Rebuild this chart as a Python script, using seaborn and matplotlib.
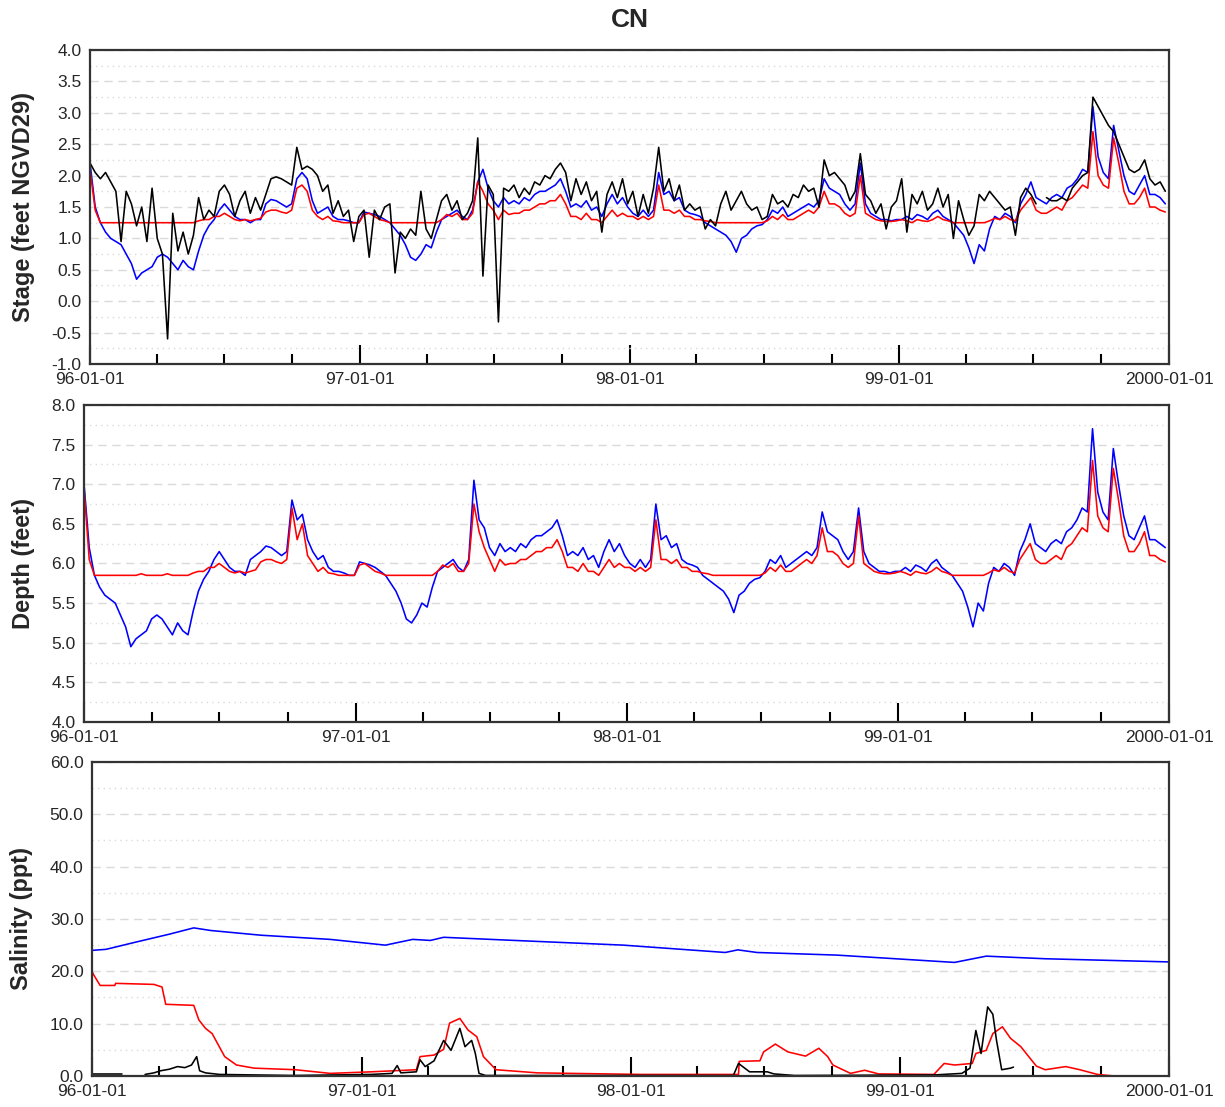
import numpy as np
import pandas as pd
import matplotlib
matplotlib.use('Agg')
import matplotlib.pyplot as plt
import matplotlib.ticker as mticker
import seaborn as sns

# weekly series, starting 1996-01-01
start = '1996-01-01'

stage_black = [
    # 1996
    2.2, 2.05, 1.95, 2.05, 1.9, 1.75, 0.95, 1.75, 1.55, 1.2,
    1.5, 0.95, 1.8, 1.0, 0.75, -0.6, 1.4, 0.8, 1.1, 0.75,
    1.05, 1.65, 1.3, 1.45, 1.35, 1.75, 1.85, 1.7, 1.35, 1.6,
    1.75, 1.4, 1.65, 1.45, 1.7, 1.95, 1.98, 1.95, 1.9, 1.85,
    2.45, 2.1, 2.15, 2.1, 2.0, 1.75, 1.85, 1.4, 1.6, 1.35,
    1.45, 0.95, 1.35,
    # 1997
    1.45, 0.7, 1.45, 1.3, 1.5, 1.55, 0.45, 1.1, 1.0, 1.15,
    1.05, 1.75, 1.15, 1.0, 1.3, 1.6, 1.7, 1.45, 1.6, 1.3,
    1.4, 1.6, 2.6, 0.4, 1.85, 1.7, -0.33, 1.8, 1.75, 1.85,
    1.65, 1.8, 1.7, 1.9, 1.85, 2.0, 1.95, 2.1, 2.2, 2.05,
    1.6, 1.95, 1.7, 1.9, 1.6, 1.75, 1.1, 1.7, 1.9, 1.65,
    1.95, 1.55,
    # 1998
    1.75, 1.35, 1.7, 1.4, 1.8, 2.45, 1.75, 1.95, 1.6, 1.85,
    1.45, 1.55, 1.45, 1.5, 1.15, 1.3, 1.2, 1.55, 1.75, 1.45,
    1.6, 1.75, 1.55, 1.45, 1.5, 1.3, 1.35, 1.7, 1.55, 1.6,
    1.5, 1.7, 1.65, 1.85, 1.75, 1.8, 1.5, 2.25, 2.0, 2.05,
    1.95, 1.85, 1.6, 1.75, 2.35, 1.7, 1.6, 1.4, 1.55, 1.15,
    1.5, 1.6,
    # 1999
    1.95, 1.1, 1.7, 1.55, 1.75, 1.45, 1.55, 1.8, 1.5, 1.7,
    1.0, 1.6, 1.3, 1.05, 1.2, 1.7, 1.6, 1.75, 1.65, 1.55,
    1.45, 1.5, 1.05, 1.65, 1.8, 1.7, 1.55, np.nan, 1.65, 1.6,
    1.6, 1.65, 1.6, 1.8, 1.9, 2.0, 2.05, 3.25, 3.1, 2.95,
    2.8, 2.7, 2.5, 2.3, 2.1, 2.05, 2.1, 2.25, 1.95, 1.85,
    1.9, 1.75,
]

stage_blue = [
    2.2, 1.5, 1.25, 1.1, 1.0, 0.95, 0.9, 0.75, 0.6, 0.35,
    0.45, 0.5, 0.55, 0.7, 0.75, 0.7, 0.6, 0.5, 0.65, 0.55,
    0.5, 0.8, 1.05, 1.2, 1.3, 1.45, 1.55, 1.45, 1.35, 1.3,
    1.3, 1.25, 1.3, 1.3, 1.55, 1.62, 1.6, 1.55, 1.5, 1.55,
    1.95, 2.05, 1.95, 1.6, 1.4, 1.45, 1.5, 1.35, 1.3, 1.3,
    1.28, 1.25, 1.25,
    1.42, 1.4, 1.38, 1.35, 1.3, 1.25, 1.15, 1.05, 0.9, 0.7,
    0.65, 0.75, 0.9, 0.85, 1.1, 1.3, 1.35, 1.4, 1.45, 1.35,
    1.3, 1.45, 1.9, 2.1, 1.8, 1.6, 1.5, 1.65, 1.55, 1.6,
    1.55, 1.65, 1.6, 1.7, 1.75, 1.75, 1.8, 1.85, 1.95, 1.75,
    1.5, 1.55, 1.5, 1.6, 1.45, 1.5, 1.35, 1.55, 1.7, 1.55,
    1.65, 1.5,
    1.4, 1.35, 1.45, 1.35, 1.45, 2.05, 1.7, 1.75, 1.6, 1.65,
    1.45, 1.4, 1.38, 1.35, 1.25, 1.2, 1.15, 1.1, 1.05, 0.95,
    0.78, 1.0, 1.05, 1.15, 1.2, 1.22, 1.3, 1.45, 1.4, 1.5,
    1.35, 1.4, 1.45, 1.5, 1.55, 1.5, 1.6, 1.95, 1.8, 1.75,
    1.7, 1.55, 1.45, 1.55, 2.2, 1.55, 1.4, 1.35, 1.3, 1.3,
    1.28, 1.3,
    1.3, 1.35, 1.3, 1.38, 1.35, 1.3, 1.4, 1.45, 1.35, 1.3,
    1.25, 1.15, 1.05, 0.85, 0.6, 0.9, 0.8, 1.15, 1.35, 1.3,
    1.4, 1.35, 1.25, 1.55, 1.7, 1.9, 1.65, 1.6, 1.55, 1.65,
    1.7, 1.65, 1.8, 1.85, 1.95, 2.1, 2.05, 3.1, 2.3, 2.05,
    1.95, 2.8, 2.4, 2.0, 1.75, 1.7, 1.85, 2.0, 1.7, 1.7,
    1.65, 1.55,
]

stage_red = [
    2.1, 1.45, 1.25, 1.25, 1.25, 1.25, 1.25, 1.25, 1.25, 1.25,
    1.25, 1.25, 1.25, 1.25, 1.25, 1.25, 1.25, 1.25, 1.25, 1.25,
    1.25, 1.28, 1.3, 1.3, 1.35, 1.35, 1.4, 1.35, 1.3, 1.28,
    1.3, 1.28, 1.3, 1.32, 1.42, 1.45, 1.45, 1.42, 1.4, 1.45,
    1.8, 1.85, 1.75, 1.45, 1.35, 1.3, 1.35, 1.28, 1.27, 1.25,
    1.25, 1.25, 1.25,
    1.38, 1.4, 1.35, 1.3, 1.28, 1.25, 1.25, 1.25, 1.25, 1.25,
    1.25, 1.25, 1.25, 1.25, 1.25, 1.3, 1.38, 1.35, 1.4, 1.3,
    1.3, 1.4, 1.9, 1.75, 1.55, 1.45, 1.3, 1.45, 1.38, 1.4,
    1.4, 1.45, 1.45, 1.5, 1.55, 1.55, 1.6, 1.6, 1.7, 1.55,
    1.35, 1.35, 1.3, 1.4, 1.3, 1.3, 1.25, 1.35, 1.45, 1.35,
    1.4, 1.35,
    1.35, 1.3, 1.35, 1.3, 1.35, 1.85, 1.45, 1.45, 1.4, 1.45,
    1.35, 1.35, 1.3, 1.3, 1.28, 1.27, 1.25, 1.25, 1.25, 1.25,
    1.25, 1.25, 1.25, 1.25, 1.25, 1.25, 1.28, 1.35, 1.3, 1.38,
    1.3, 1.3, 1.35, 1.4, 1.45, 1.4, 1.5, 1.75, 1.55, 1.55,
    1.5, 1.4, 1.35, 1.4, 2.0, 1.4, 1.35, 1.3, 1.28, 1.27,
    1.27, 1.28,
    1.3, 1.28, 1.25, 1.3, 1.28, 1.27, 1.3, 1.35, 1.3, 1.28,
    1.25, 1.25, 1.25, 1.25, 1.25, 1.25, 1.25, 1.28, 1.32, 1.3,
    1.35, 1.3, 1.28, 1.45, 1.55, 1.65, 1.45, 1.4, 1.4, 1.45,
    1.5, 1.45, 1.6, 1.65, 1.75, 1.85, 1.8, 2.7, 2.0, 1.85,
    1.8, 2.6, 2.2, 1.75, 1.55, 1.55, 1.65, 1.8, 1.5, 1.5,
    1.45, 1.42,
]

depth_blue = [
    7.0, 6.2, 5.85, 5.7, 5.6, 5.55, 5.5, 5.35, 5.2, 4.95,
    5.05, 5.1, 5.15, 5.3, 5.35, 5.3, 5.2, 5.1, 5.25, 5.15,
    5.1, 5.4, 5.65, 5.8, 5.9, 6.05, 6.15, 6.05, 5.95, 5.9,
    5.9, 5.85, 6.05, 6.1, 6.15, 6.22, 6.2, 6.15, 6.1, 6.15,
    6.8, 6.55, 6.62, 6.3, 6.15, 6.05, 6.1, 5.95, 5.9, 5.9,
    5.88, 5.85, 5.85,
    6.02, 6.0, 5.98, 5.95, 5.9, 5.85, 5.75, 5.65, 5.5, 5.3,
    5.25, 5.35, 5.5, 5.45, 5.7, 5.9, 5.95, 6.0, 6.05, 5.95,
    5.9, 6.05, 7.05, 6.55, 6.45, 6.2, 6.1, 6.25, 6.15, 6.2,
    6.15, 6.25, 6.2, 6.3, 6.35, 6.35, 6.4, 6.45, 6.55, 6.35,
    6.1, 6.15, 6.1, 6.2, 6.05, 6.1, 5.95, 6.15, 6.3, 6.15,
    6.25, 6.1,
    6.0, 5.95, 6.05, 5.95, 6.05, 6.75, 6.3, 6.35, 6.2, 6.25,
    6.05, 6.0, 5.98, 5.95, 5.85, 5.8, 5.75, 5.7, 5.65, 5.55,
    5.38, 5.6, 5.65, 5.75, 5.8, 5.82, 5.9, 6.05, 6.0, 6.1,
    5.95, 6.0, 6.05, 6.1, 6.15, 6.1, 6.2, 6.65, 6.4, 6.35,
    6.3, 6.15, 6.05, 6.15, 6.7, 6.15, 6.0, 5.95, 5.9, 5.9,
    5.88, 5.9,
    5.9, 5.95, 5.9, 5.98, 5.95, 5.9, 6.0, 6.05, 5.95, 5.9,
    5.85, 5.75, 5.65, 5.45, 5.2, 5.5, 5.4, 5.75, 5.95, 5.9,
    6.0, 5.95, 5.85, 6.15, 6.3, 6.5, 6.25, 6.2, 6.15, 6.25,
    6.3, 6.25, 6.4, 6.45, 6.55, 6.7, 6.65, 7.7, 6.9, 6.65,
    6.55, 7.45, 7.0, 6.6, 6.35, 6.3, 6.45, 6.6, 6.3, 6.3,
    6.25, 6.2,
]

depth_red = [
    6.95, 6.05, 5.85, 5.85, 5.85, 5.85, 5.85, 5.85, 5.85, 5.85,
    5.85, 5.87, 5.85, 5.85, 5.85, 5.85, 5.87, 5.85, 5.85, 5.85,
    5.85, 5.88, 5.9, 5.9, 5.95, 5.95, 6.0, 5.95, 5.9, 5.88,
    5.9, 5.88, 5.9, 5.92, 6.02, 6.05, 6.05, 6.02, 6.0, 6.05,
    6.7, 6.3, 6.5, 6.1, 6.0, 5.9, 5.95, 5.88, 5.87, 5.85,
    5.85, 5.85, 5.85,
    5.98, 6.0, 5.95, 5.9, 5.88, 5.85, 5.85, 5.85, 5.85, 5.85,
    5.85, 5.85, 5.85, 5.85, 5.85, 5.9, 5.98, 5.95, 6.0, 5.9,
    5.9, 6.0, 6.75, 6.4, 6.2, 6.05, 5.9, 6.05, 5.98, 6.0,
    6.0, 6.05, 6.05, 6.1, 6.15, 6.15, 6.2, 6.2, 6.3, 6.15,
    5.95, 5.95, 5.9, 6.0, 5.9, 5.9, 5.85, 5.95, 6.05, 5.95,
    6.0, 5.95,
    5.95, 5.9, 5.95, 5.9, 5.95, 6.55, 6.05, 6.05, 6.0, 6.05,
    5.95, 5.95, 5.9, 5.9, 5.88, 5.87, 5.85, 5.85, 5.85, 5.85,
    5.85, 5.85, 5.85, 5.85, 5.85, 5.85, 5.88, 5.95, 5.9, 5.98,
    5.9, 5.9, 5.95, 6.0, 6.05, 6.0, 6.1, 6.45, 6.15, 6.15,
    6.1, 6.0, 5.95, 6.0, 6.6, 6.0, 5.95, 5.9, 5.88, 5.87,
    5.87, 5.88,
    5.9, 5.88, 5.85, 5.9, 5.88, 5.87, 5.9, 5.95, 5.9, 5.88,
    5.85, 5.85, 5.85, 5.85, 5.85, 5.85, 5.85, 5.88, 5.92, 5.9,
    5.95, 5.9, 5.88, 6.05, 6.15, 6.25, 6.05, 6.0, 6.0, 6.05,
    6.1, 6.05, 6.2, 6.25, 6.35, 6.45, 6.4, 7.3, 6.6, 6.45,
    6.4, 7.2, 6.8, 6.35, 6.15, 6.15, 6.25, 6.4, 6.1, 6.1,
    6.05, 6.02,
]

sal_blue_dates = ['1996-01-01', '1996-01-20', '1996-03-01', '1996-04-15', '1996-05-18',
                  '1996-06-10', '1996-08-17', '1996-11-19', '1997-02-02', '1997-03-11',
                  '1997-04-04', '1997-04-22', '1997-07-11', '1997-12-22', '1998-05-09',
                  '1998-05-26', '1998-06-21', '1998-10-07', '1999-03-16', '1999-04-28',
                  '1999-07-17', '1999-12-31']
sal_blue = [24.0, 24.2, 25.6, 27.1, 28.3, 27.8, 26.9, 26.1, 25.0, 26.1,
            25.9, 26.5, 26.0, 25.0, 23.6, 24.1, 23.6, 23.1, 21.7, 22.9,
            22.4, 21.8]

sal_red_dates = ['1996-01-01', '1996-01-03', '1996-01-12', '1996-02-01', '1996-02-02',
                 '1996-03-25', '1996-04-05', '1996-04-10', '1996-05-18', '1996-05-25',
                 '1996-06-03', '1996-06-12', '1996-06-29', '1996-07-15', '1996-08-08',
                 '1996-10-03', '1996-11-19', '1997-01-14', '1997-03-16', '1997-03-21',
                 '1997-04-09', '1997-04-22', '1997-04-30', '1997-05-14', '1997-05-25',
                 '1997-06-06', '1997-06-15', '1997-07-02', '1997-08-27', '1997-11-29',
                 '1998-01-15', '1998-05-27', '1998-05-28', '1998-06-25', '1998-06-30',
                 '1998-07-16', '1998-08-02', '1998-08-26', '1998-09-13', '1998-09-25',
                 '1998-10-02', '1998-10-26', '1998-11-14', '1998-12-03', '1999-02-16',
                 '1999-03-02', '1999-03-16', '1999-04-09', '1999-04-14', '1999-04-28',
                 '1999-05-07', '1999-05-20', '1999-05-31', '1999-06-14', '1999-06-23',
                 '1999-07-05', '1999-07-17', '1999-08-14', '1999-09-02', '1999-09-26',
                 '1999-10-19', '1999-12-31']
sal_red = [20.0, 19.4, 17.3, 17.3, 17.7, 17.5, 17.0, 13.7, 13.5, 10.7,
           9.1, 8.1, 3.7, 2.1, 1.5, 1.2, 0.5, 0.8, 1.2, 3.7,
           4.0, 5.1, 10.1, 11.0, 8.8, 7.5, 3.7, 1.2, 0.6, 0.4,
           0.3, 0.3, 2.8, 2.9, 4.6, 6.1, 4.6, 3.8, 5.3, 3.7,
           2.1, 0.5, 1.1, 0.4, 0.3, 2.4, 2.1, 2.4, 4.3, 4.9,
           8.1, 9.4, 7.2, 5.6, 4.0, 1.9, 1.2, 1.8, 1.2, 0.3,
           0.0, 0.0]

sal_black_dates = ['1996-01-01', '1996-02-11', '1996-02-12', '1996-03-13', '1996-03-25',
                   '1996-04-03', '1996-04-15', '1996-04-26', '1996-05-06', '1996-05-15',
                   '1996-05-22', '1996-05-26', '1996-06-03', '1996-06-22', '1996-10-01',
                   '1997-01-14', '1997-02-11', '1997-02-18', '1997-02-23', '1997-03-16',
                   '1997-03-21', '1997-03-28', '1997-04-09', '1997-04-22', '1997-05-02',
                   '1997-05-14', '1997-05-21', '1997-05-30', '1997-06-04', '1997-06-09',
                   '1997-06-18', '1998-01-01', '1998-05-20', '1998-05-27', '1998-06-11',
                   '1998-07-05', '1998-07-14', '1998-08-11', '1999-02-16', '1999-03-26',
                   '1999-04-06', '1999-04-14', '1999-04-21', '1999-04-30', '1999-05-07',
                   '1999-05-12', '1999-05-19', '1999-05-31', '1999-06-04']
sal_black = [0.3, 0.3, np.nan, 0.3, 0.6, 1.0, 1.3, 1.8, 1.6, 2.1,
             3.7, 1.0, 0.6, 0.3, 0.1, 0.3, 0.5, 2.0, 0.6, 0.8,
             3.1, 1.8, 2.9, 6.8, 4.9, 9.1, 5.6, 6.8, 4.3, 0.5,
             0.1, 0.1, 0.1, 2.4, 0.8, 0.8, 0.4, 0.1, 0.2, 0.5,
             1.5, 8.7, 4.3, 13.2, 11.8, 6.8, 1.2, 1.5, 1.7]

xtick_dates = ['1996-01-01', '1997-01-01', '1998-01-01', '1999-01-01', '2000-01-01']
xtick_labels = ['96-01-01', '97-01-01', '98-01-01', '99-01-01', '2000-01-01']

sns.set_style('white')
plt.rcParams['font.family'] = ['Liberation Sans', 'DejaVu Sans']


def frame(vals, dates=None):
    if dates is None:
        dates = pd.date_range(start, periods=len(vals), freq='7D')
    df = pd.DataFrame({'date': pd.to_datetime(dates), 'val': vals})
    df['seg'] = df['val'].isna().cumsum()
    return df.dropna()


def draw(ax, vals, color, dates=None):
    sns.lineplot(data=frame(vals, dates), x='date', y='val', units='seg',
                 estimator=None, color=color, lw=1.15, ax=ax)


def style(ax, ylo, yhi, step, ylabel, labx):
    ax.set_xlim(pd.Timestamp('1996-01-01'), pd.Timestamp('2000-01-01'))
    ax.set_ylim(ylo, yhi)
    ax.yaxis.set_major_locator(mticker.MultipleLocator(step))
    ax.yaxis.set_minor_locator(mticker.MultipleLocator(step / 2))
    ax.yaxis.set_major_formatter(mticker.FormatStrFormatter('%.1f'))
    ax.set_xticks(pd.to_datetime(xtick_dates))
    ax.set_xticklabels(xtick_labels)
    ax.set_xticks(pd.date_range('1996-04-01', '1999-10-01', freq='QS-JAN').difference(
        pd.to_datetime(xtick_dates)), minor=True)
    ax.grid(which='major', axis='y', color='#dadada', ls=(0, (6, 4)), lw=1.0)
    ax.grid(which='minor', axis='y', color='#dadada', ls=(0, (1, 3)), lw=1.0)
    ax.grid(which='both', axis='x', visible=False)
    ax.tick_params(axis='x', which='major', direction='in', length=14, width=1.5,
                   color='black', pad=6, labelsize=12.5, bottom=True, top=False)
    ax.tick_params(axis='x', which='minor', direction='in', length=7, width=1.5,
                   color='black', bottom=True, top=False)
    ax.tick_params(axis='y', which='both', length=0, pad=6, labelsize=12.5, left=False)
    for s in ax.spines.values():
        s.set_color('#333333')
        s.set_linewidth(1.6)
    ax.set_xlabel('')
    ax.set_ylabel(ylabel, fontsize=17, fontweight='bold')
    ax.yaxis.set_label_coords(labx, 0.5)


fig = plt.figure(figsize=(12.25, 11.07), dpi=100)
ax1 = fig.add_axes([0.0735, 0.6712, 0.8808, 0.2836])
ax2 = fig.add_axes([0.0686, 0.3478, 0.8857, 0.2864])
ax3 = fig.add_axes([0.0751, 0.0280, 0.8792, 0.2837])

draw(ax1, stage_blue, '#0000ff')
draw(ax1, stage_red, '#ff0000')
draw(ax1, stage_black, 'black')
style(ax1, -1.0, 4.0, 0.5, 'Stage (feet NGVD29)', -0.051)

draw(ax2, depth_blue, '#0000ff')
draw(ax2, depth_red, '#ff0000')
style(ax2, 4.0, 8.0, 0.5, 'Depth (feet)', -0.045)

draw(ax3, sal_blue, '#0000ff', sal_blue_dates)
draw(ax3, sal_red, '#ff0000', sal_red_dates)
draw(ax3, sal_black, 'black', sal_black_dates)
style(ax3, 0.0, 60.0, 10.0, 'Salinity (ppt)', -0.055)

fig.text(0.514, 0.982, 'CN', ha='center', va='center', fontsize=19, fontweight='bold')

fig.savefig('out.png', dpi=100)
